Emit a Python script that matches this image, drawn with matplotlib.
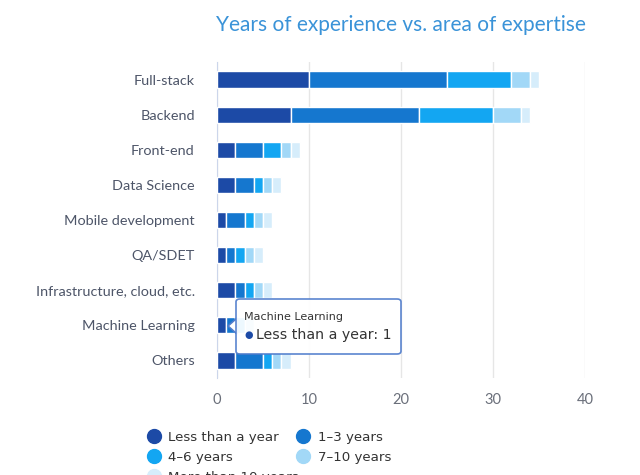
import numpy as np
import matplotlib.pyplot as plt
from matplotlib.patches import FancyBboxPatch, Polygon
from matplotlib.lines import Line2D

categories = ['Full-stack', 'Backend', 'Front-end', 'Data Science', 'Mobile development',
              'QA/SDET', 'Infrastructure, cloud, etc.', 'Machine Learning', 'Others']
series_names = ['Less than a year', '1–3 years', '4–6 years', '7–10 years', 'More than 10 years']
less_than_1 = [10, 8, 2, 2, 1, 1, 2, 1, 2]
y1_3 = [15, 14, 3, 2, 2, 1, 1, 1, 3]
y4_6 = [7, 8, 2, 1, 1, 1, 1, 1, 1]
y7_10 = [2, 3, 1, 1, 1, 1, 1, 1, 1]
more_10 = [1, 1, 1, 1, 1, 1, 1, 0, 1]
colors = ['#1c4aa6', '#1577cf', '#13a6f2', '#a2d8f7', '#d6edfb']

data = [less_than_1, y1_3, y4_6, y7_10, more_10]

fig = plt.figure(figsize=(6.4, 4.75), dpi=100)
ax = fig.add_axes([217/640, 1-378/475, (585-217)/640, (378-62)/475])

y = np.arange(len(categories))
left = np.zeros(len(categories))
for vals, name, c in zip(data, series_names, colors):
    ax.barh(y, vals, left=left, height=0.46, color=c, edgecolor='white', linewidth=1, label=name, zorder=3)
    left += np.array(vals)

ax.set_ylim(len(categories) - 0.5, -0.5)
ax.set_xlim(0, 40)
ax.set_xticks([0, 10, 20, 30, 40])
ax.set_yticks(y)
ax.set_yticklabels(categories, fontsize=10.4, color='#4d5568', family='Lato')
for lbl in ax.get_xticklabels():
    lbl.set_family('Lato')
ax.tick_params(axis='x', length=0, labelsize=10.5, labelcolor='#6a6f7a', pad=11)
ax.tick_params(axis='y', length=0, pad=16)
ax.grid(axis='x', color='#e6e6e6', linewidth=1, zorder=0)
for s in ['top', 'right', 'bottom']:
    ax.spines[s].set_visible(False)
ax.spines['left'].set_color('#ccd6eb')

fig.text(401/640, 1-25/475, 'Years of experience vs. area of expertise', ha='center', va='center',
         fontsize=15, color='#3a93d8', family='Lato')

# legend (row-major order like the original), third row runs off the bottom as in the source
handles = [Line2D([], [], marker='o', linestyle='', markersize=10, color=c) for c in colors]
order = [0, 2, 4, 1, 3]
leg = fig.legend([handles[i] for i in order], [series_names[i] for i in order], ncol=2,
                 loc='upper left', bbox_to_anchor=(135/640, 1-419/475), frameon=False,
                 handletextpad=0.6, columnspacing=-0.2, labelspacing=0.52,
                 handlelength=1.0, prop={'family': 'DejaVu Sans', 'size': 9.6})
for t in leg.get_texts():
    t.set_color('#333333')

# tooltip
box = FancyBboxPatch((236/640, 1-354/475), (401-236)/640, (354-299)/475,
                     boxstyle='round,pad=0,rounding_size=0.006', transform=fig.transFigure,
                     facecolor='white', edgecolor='#4f7ccc', linewidth=1.2, alpha=0.93, zorder=10)
fig.add_artist(box)
tri = Polygon([(237/640, 1-318/475), (228/640, 1-326/475), (237/640, 1-334/475)],
              closed=True, transform=fig.transFigure, facecolor='white', edgecolor='#4f7ccc',
              linewidth=1.2, zorder=9)
fig.add_artist(tri)
fig.text(244/640, 1-317/475, 'Machine Learning', fontsize=8, color='#333333', va='center', zorder=11)
fig.text(244/640, 1-335/475, '●', fontsize=7, color=colors[0], va='center', zorder=11)
fig.text(256/640, 1-335/475, 'Less than a year: ' + str(less_than_1[7]), fontsize=10.2,
         color='#333333', va='center', zorder=11)

fig.savefig('out.png', dpi=100, facecolor='white')
